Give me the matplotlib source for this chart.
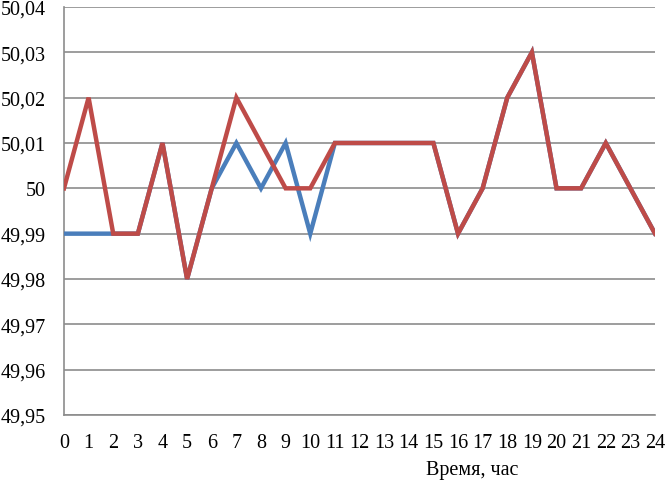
import matplotlib
matplotlib.use("Agg")
import matplotlib.pyplot as plt
from matplotlib.ticker import FuncFormatter

hours = list(range(25))
blue = [49.99, 49.99, 49.99, 49.99, 50.01, 49.98, 50.00, 50.01, 50.00, 50.01, 49.99,
        50.01, 50.01, 50.01, 50.01, 50.01, 49.99, 50.00, 50.02, 50.03, 50.00, 50.00,
        50.01, 50.00, 49.99]
red = [50.00, 50.02, 49.99, 49.99, 50.01, 49.98, 50.00, 50.02, 50.01, 50.00, 50.00,
       50.01, 50.01, 50.01, 50.01, 50.01, 49.99, 50.00, 50.02, 50.03, 50.00, 50.00,
       50.01, 50.00, 49.99]
yticks = [49.95, 49.96, 49.97, 49.98, 49.99, 50.00, 50.01, 50.02, 50.03, 50.04]
xlabel = "Время, час"

plt.rcParams['font.family'] = ['Liberation Serif', 'DejaVu Serif']

fig = plt.figure(figsize=(6.65, 4.85), dpi=100)
ax = fig.add_axes([0.0962, 0.1423, 0.8888, 0.8412])

ax.plot(hours, blue, color='#4A7EBB', lw=3.2, solid_joinstyle='miter', zorder=3)
ax.plot(hours, red, color='#BE4B48', lw=3.2, solid_joinstyle='miter', zorder=4)

ax.set_xlim(0, 24)
ax.set_ylim(49.95, 50.04)
ax.set_yticks(yticks)
ax.set_xticks(hours)

def fmt(v, pos):
    s = f"{v:.2f}"
    if s.endswith("00"):
        s = s[:-3]
    return s.replace('.', ',')

ax.yaxis.set_major_formatter(FuncFormatter(fmt))
ax.grid(axis='y', color='#8C8C8C', lw=1.2, zorder=1)
ax.tick_params(axis='both', length=0, labelsize=14.5)
ax.tick_params(axis='y', pad=13)
ax.tick_params(axis='x', pad=13)
for side in ['top', 'right']:
    ax.spines[side].set_visible(False)
for side in ['left', 'bottom']:
    ax.spines[side].set_color('#8C8C8C')
    ax.spines[side].set_linewidth(1.2)

fig.text(472 / 665, 1 - 471 / 485, xlabel, ha='center', va='center', fontsize=14.5)

fig.savefig("out.png", dpi=100)
